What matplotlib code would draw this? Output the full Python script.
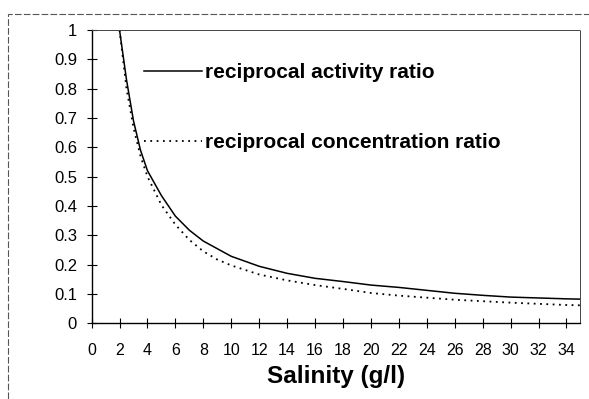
import matplotlib.pyplot as plt
from matplotlib.patches import Rectangle

plt.rcParams['font.family'] = ['Liberation Sans', 'DejaVu Sans']

# salinity (g/l) and the two reciprocal ratios
sal_act = [2, 2.5, 3, 3.5, 4, 5, 6, 7, 8, 10, 12, 14, 16, 18, 20, 22, 24, 26, 28, 30, 32, 34, 35]
act_ratio = [1.0, 0.83, 0.69, 0.59, 0.52, 0.435, 0.365, 0.317, 0.28, 0.228, 0.194, 0.17,
             0.153, 0.142, 0.13, 0.122, 0.112, 0.102, 0.095, 0.089, 0.086, 0.083, 0.082]

sal_conc = [2, 2.5, 3, 3.5, 4, 5, 6, 7, 8, 9, 10, 12, 14, 16, 18, 20, 22, 24, 26, 28, 30, 32, 34, 35]
conc_ratio = [1.0, 0.80, 0.667, 0.57, 0.50, 0.403, 0.336, 0.284, 0.245, 0.217, 0.197, 0.166,
              0.146, 0.13, 0.117, 0.103, 0.094, 0.087, 0.08, 0.075, 0.07, 0.066, 0.062, 0.061]

xticks = list(range(0, 35, 2))
yticks = [0, 0.1, 0.2, 0.3, 0.4, 0.5, 0.6, 0.7, 0.8, 0.9, 1]
ylabels = ['0', '0.1', '0.2', '0.3', '0.4', '0.5', '0.6', '0.7', '0.8', '0.9', '1']

fig = plt.figure(figsize=(5.89, 3.99), dpi=100)
ax = fig.add_axes([0.1555, 0.19, 0.83, 0.735])

# outer dashed frame of the scanned figure
fig.patches.append(Rectangle((0.0136, -0.1), 1.1, 1.065, transform=fig.transFigure,
                             fill=False, ec='#555555', lw=0.8, ls=(0, (6, 2))))

ax.plot(sal_act, act_ratio, color='black', lw=1.1, label='reciprocal activity ratio')
ax.plot(sal_conc, conc_ratio, color='black', lw=1.3, ls=(0, (1, 2.5)),
        label='reciprocal concentration ratio')

ax.set_xlim(0, 35)
ax.set_ylim(0, 1)
ax.set_xticks(xticks)
ax.set_yticks(yticks)
ax.set_yticklabels(ylabels)
ax.tick_params(axis='both', direction='inout', length=7, width=0.8, labelsize=11.5)
ax.tick_params(axis='x', pad=11)
ax.tick_params(axis='y', pad=7, labelsize=12)

for side in ['top', 'right']:
    ax.spines[side].set_linestyle((0, (1, 1)))
    ax.spines[side].set_linewidth(0.7)
    ax.spines[side].set_color('#444444')
for side in ['left', 'bottom']:
    ax.spines[side].set_linewidth(1.0)

ax.set_xlabel('Salinity (g/l)', fontsize=17.5, fontweight='bold', labelpad=5)

ax.legend(loc='upper left', bbox_to_anchor=(0.108, 0.886), frameon=False,
          borderaxespad=0, borderpad=0, handlelength=2.75, handletextpad=0.18,
          labelspacing=2.45, prop={'size': 15, 'weight': 'bold'})

fig.savefig('out.png', dpi=100)
